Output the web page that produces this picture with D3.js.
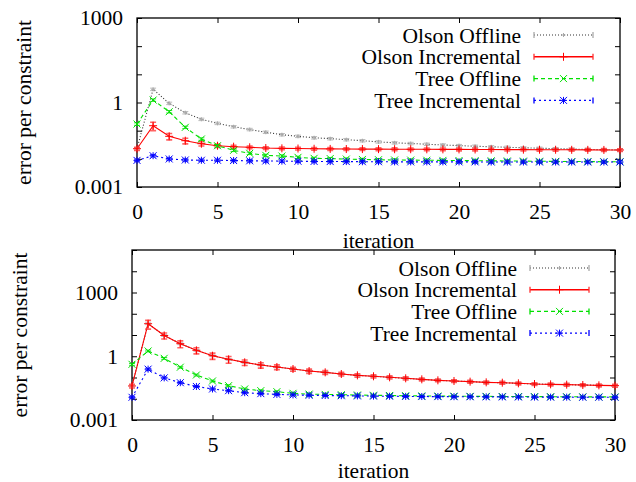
<!DOCTYPE html>
<html>
<head>
<meta charset="utf-8">
<script src="https://cdn.jsdelivr.net/npm/d3@7"></script>
<style>
body { margin: 0; background: #fff; }
text { font-family: "Liberation Serif", "Times New Roman", Times, serif; font-size: 21.5px; fill: #000; }
</style>
</head>
<body>
<svg id="chart" width="636" height="482"></svg>
<script>
////////////////////////////////////////////////////////////////////////////////
///////////////////////////////////////////////////////////////////////// Data
////////////////////////////////////////////////////////////////////////////////

const iterations = [0, 1, 2, 3, 4, 5, 6, 7, 8, 9, 10, 11, 12, 13, 14, 15,
                    16, 17, 18, 19, 20, 21, 22, 23, 24, 25, 26, 27, 28, 29, 30];
const seriesNames = ["Olson Offline", "Olson Incremental", "Tree Offline", "Tree Incremental"];
const xTickValues = [0, 5, 10, 15, 20, 25, 30];

// top panel
const topOlsonOffline = [0.0229, 2.94, 0.935, 0.435, 0.253, 0.182, 0.138, 0.11, 0.088, 0.072,
  0.063, 0.056, 0.052, 0.048, 0.044, 0.040, 0.037, 0.035, 0.033, 0.031, 0.0295, 0.028,
  0.0268, 0.0257, 0.0247, 0.0238, 0.023, 0.0223, 0.0216, 0.021, 0.0207];
const topOlsonIncremental = [0.0229, 0.15, 0.063, 0.044, 0.0344, 0.0292, 0.027, 0.0257,
  0.0242, 0.0236, 0.0232, 0.0228, 0.0225, 0.0223, 0.0222, 0.0221, 0.022, 0.0219, 0.0218,
  0.0217, 0.0216, 0.0215, 0.0214, 0.0213, 0.0212, 0.0211, 0.021, 0.0209, 0.0208, 0.0207, 0.0206];
const topOlsonIncrementalErr = [0.003, 0.05, 0.016, 0.01, 0.006, 0.004, 0.0035, 0.003,
  0.0028, 0.0027, 0.0026, 0.0026, 0.0025, 0.0025, 0.0025, 0.0025, 0.0024, 0.0024, 0.0024,
  0.0024, 0.0024, 0.0024, 0.0024, 0.0023, 0.0023, 0.0023, 0.0023, 0.0023, 0.0023, 0.0023, 0.0023];
const topTreeOffline = [0.172, 1.22, 0.471, 0.1315, 0.0506, 0.0292, 0.0201, 0.0157, 0.0133,
  0.0126, 0.0113, 0.0104, 0.0102, 0.0098, 0.0095, 0.0093, 0.0091, 0.009, 0.0089, 0.0088,
  0.0087, 0.0086, 0.0085, 0.0084, 0.0083, 0.0082, 0.0081, 0.008, 0.008, 0.0079, 0.0079];
const topTreeIncremental = [0.0088, 0.0129, 0.0099, 0.0091, 0.0089, 0.0089, 0.0087, 0.0085,
  0.0084, 0.0083, 0.0082, 0.0081, 0.008, 0.008, 0.0079, 0.0079, 0.0078, 0.0078, 0.0078,
  0.0078, 0.0078, 0.0078, 0.0077, 0.0077, 0.0077, 0.0077, 0.0077, 0.0077, 0.0077, 0.0077, 0.0077];
const topYTicks = [0.001, 0.01, 0.1, 1, 10, 100, 1000];
const topYLabels = [0.001, 1, 1000];

// bottom panel
const bottomOlsonOffline = [0.04, 34, 9.5, 3.9, 1.9, 1.06, 0.716, 0.517, 0.387, 0.312, 0.251,
  0.202, 0.175, 0.146, 0.126, 0.114, 0.102, 0.0915, 0.082, 0.0736, 0.0685, 0.0637, 0.0592,
  0.057, 0.0532, 0.0494, 0.0477, 0.046, 0.0444, 0.0428, 0.0413];
const bottomOlsonIncremental = [0.04, 34, 9.5, 3.9, 1.9, 1.06, 0.716, 0.517, 0.387, 0.312, 0.251,
  0.202, 0.175, 0.146, 0.126, 0.114, 0.102, 0.0915, 0.082, 0.0736, 0.0685, 0.0637, 0.0592,
  0.057, 0.0532, 0.0494, 0.0477, 0.046, 0.0444, 0.0428, 0.0413];
const bottomOlsonIncrementalErr = [0.008, 15, 3, 1.4, 0.6, 0.35, 0.25, 0.15, 0.11, 0.08, 0.055,
  0.045, 0.035, 0.028, 0.023, 0.02, 0.017, 0.015, 0.013, 0.011, 0.01, 0.0095, 0.009, 0.0085,
  0.008, 0.0075, 0.0072, 0.007, 0.0068, 0.0066, 0.0064];
const bottomTreeOffline = [0.417, 1.77, 0.798, 0.305, 0.131, 0.0685, 0.0413, 0.0288, 0.024,
  0.0215, 0.018, 0.0165, 0.016, 0.0155, 0.015, 0.0146, 0.0142, 0.0139, 0.0136, 0.0134, 0.0132,
  0.013, 0.0129, 0.0128, 0.0127, 0.0126, 0.0125, 0.0124, 0.0123, 0.0122, 0.0122];
const bottomTreeIncremental = [0.0117, 0.247, 0.096, 0.057, 0.0378, 0.0288, 0.024, 0.0193,
  0.0174, 0.016, 0.0152, 0.0146, 0.0142, 0.0139, 0.0136, 0.0133, 0.0131, 0.0129, 0.0127,
  0.0126, 0.0125, 0.0124, 0.0123, 0.0122, 0.0121, 0.012, 0.0119, 0.0119, 0.0118, 0.0118, 0.0117];
const bottomYTicks = [0.001, 0.01, 0.1, 1, 10, 100, 1000, 10000, 100000];
const bottomYLabels = [0.001, 1, 1000];

// relative spread of the small error bars on the other series
const smallErrSpread = 0.1;

////////////////////////////////////////////////////////////////////////////////
//////////////////////////////////////////////////////////////////////// Styles
////////////////////////////////////////////////////////////////////////////////

const seriesStyles = [
  { color: "#333", capColor: "#aaa", markColor: "#aaa", dash: "1,2", marker: "plus", size: 2 },
  { color: "#ff0000", capColor: "#ff3030", markColor: "#ff0000", dash: null, marker: "plus", size: 4 },
  { color: "#00e000", capColor: "#00e000", markColor: "#00e000", dash: "4,3", marker: "cross", size: 3.5 },
  { color: "#0000ff", capColor: "#0000ff", markColor: "#0000ff", dash: "2,3", marker: "star", size: 3.5 }
];

const svg = d3.select("#chart");

function markerPath(type, cx, cy, s) {
  const plus = `M${cx - s},${cy}L${cx + s},${cy}M${cx},${cy - s}L${cx},${cy + s}`;
  const cross = `M${cx - s},${cy - s}L${cx + s},${cy + s}M${cx - s},${cy + s}L${cx + s},${cy - s}`;
  if (type == "plus") return plus;
  if (type == "cross") return cross;
  return plus + cross;
}

function drawPanel(panel) {
  const g = svg.append("g");

  const xScale = d3.scaleLinear().domain([0, 30]).range([panel.left, panel.right]);
  const yScale = d3.scaleLog().domain([panel.yTicks[0], panel.yTicks[panel.yTicks.length - 1]])
                   .range([panel.bottom, panel.top]);

  // axes, ticks pointing inward on all four sides
  const fmt = d => panel.yLabels.includes(d) ? String(d) : "";
  g.append("g").attr("transform", `translate(0,${panel.bottom})`)
   .call(d3.axisBottom(xScale).tickValues(xTickValues).tickSize(-5).tickPadding(17));
  g.append("g").attr("transform", `translate(0,${panel.top})`)
   .call(d3.axisTop(xScale).tickValues(xTickValues).tickSize(-5).tickFormat(""));
  g.append("g").attr("transform", `translate(${panel.left},0)`)
   .call(d3.axisLeft(yScale).tickValues(panel.yTicks).tickSize(-5).tickPadding(14).tickFormat(fmt));
  g.append("g").attr("transform", `translate(${panel.right},0)`)
   .call(d3.axisRight(yScale).tickValues(panel.yTicks).tickSize(-5).tickFormat(""));
  g.selectAll(".domain").remove();
  g.selectAll(".tick line").attr("stroke", "#000");

  g.append("rect")
    .attr("x", panel.left).attr("y", panel.top)
    .attr("width", panel.right - panel.left).attr("height", panel.bottom - panel.top)
    .attr("fill", "none").attr("stroke", "#000").attr("stroke-width", 1.3);

  // axis titles
  g.append("text")
    .attr("x", (panel.left + panel.right) / 2).attr("y", panel.bottom + panel.xTitleGap)
    .attr("dy", "0.35em").style("text-anchor", "middle")
    .text("iteration");
  g.append("text")
    .attr("transform", `translate(${panel.yTitleX},${(panel.top + panel.bottom) / 2}) rotate(-90)`)
    .attr("dy", "0.35em").style("text-anchor", "middle")
    .text("error per constraint");

  // series
  panel.series.forEach(function(values, k) {
    const st = seriesStyles[k];
    const pts = iterations.map(function(it, i) {
      const err = panel.errors[k] ? panel.errors[k][i] : values[i] * smallErrSpread;
      return { x: it, v: values[i], lo: values[i] - err, hi: values[i] + err };
    });

    g.append("path")
      .datum(pts)
      .attr("fill", "none")
      .attr("stroke", st.color)
      .attr("stroke-width", 1.1)
      .attr("stroke-dasharray", st.dash)
      .attr("d", d3.line().x(d => xScale(d.x)).y(d => yScale(d.v)));

    const bars = g.append("g").attr("stroke", st.capColor).attr("fill", "none");
    bars.selectAll("path")
      .data(pts)
      .join("path")
        .attr("stroke-width", k == 1 ? 1.6 : 1)
        .attr("opacity", k == 1 ? 0.75 : 0.8)
        .attr("d", function(d) {
          const cx = xScale(d.x), y0 = yScale(d.lo), y1 = yScale(d.hi);
          return `M${cx},${y0}L${cx},${y1}M${cx - 3},${y0}L${cx + 3},${y0}M${cx - 3},${y1}L${cx + 3},${y1}`;
        });

    g.append("g")
      .selectAll("path")
      .data(pts)
      .join("path")
        .attr("fill", "none")
        .attr("stroke", st.markColor)
        .attr("stroke-width", 1)
        .attr("d", d => markerPath(st.marker, xScale(d.x), yScale(d.v), st.size));

    // legend entry
    const ly = panel.legendTop + k * panel.legendStep;
    g.append("text")
      .attr("x", panel.legendTextRight).attr("y", ly)
      .attr("dy", "0.35em").style("text-anchor", "end")
      .text(seriesNames[k]);
    const x0 = panel.legendTextRight + 13, x1 = panel.legendTextRight + 72;
    g.append("path")
      .attr("stroke", st.color).attr("stroke-width", k == 1 ? 1.6 : 1.1)
      .attr("stroke-dasharray", st.dash).attr("fill", "none")
      .attr("d", `M${x0},${ly}L${x1},${ly}`);
    g.append("path")
      .attr("stroke", st.capColor).attr("stroke-width", 1.3).attr("fill", "none")
      .attr("d", `M${x0},${ly - 3}L${x0},${ly + 3}M${x1},${ly - 3}L${x1},${ly + 3}`);
    g.append("path")
      .attr("stroke", st.markColor).attr("fill", "none")
      .attr("d", markerPath(st.marker, (x0 + x1) / 2, ly, st.size));
  });
}

drawPanel({
  left: 137, right: 620, top: 18, bottom: 187, yTitleX: 23, xTitleGap: 53,
  yTicks: topYTicks, yLabels: topYLabels,
  series: [topOlsonOffline, topOlsonIncremental, topTreeOffline, topTreeIncremental],
  errors: [null, topOlsonIncrementalErr, null, null],
  legendTop: 35, legendStep: 21.8, legendTextRight: 521
});

drawPanel({
  left: 132, right: 615, top: 250, bottom: 420, yTitleX: 19, xTitleGap: 50,
  yTicks: bottomYTicks, yLabels: bottomYLabels,
  series: [bottomOlsonOffline, bottomOlsonIncremental, bottomTreeOffline, bottomTreeIncremental],
  errors: [null, bottomOlsonIncrementalErr, null, null],
  legendTop: 268, legendStep: 21.7, legendTextRight: 517
});
</script>
</body>
</html>
